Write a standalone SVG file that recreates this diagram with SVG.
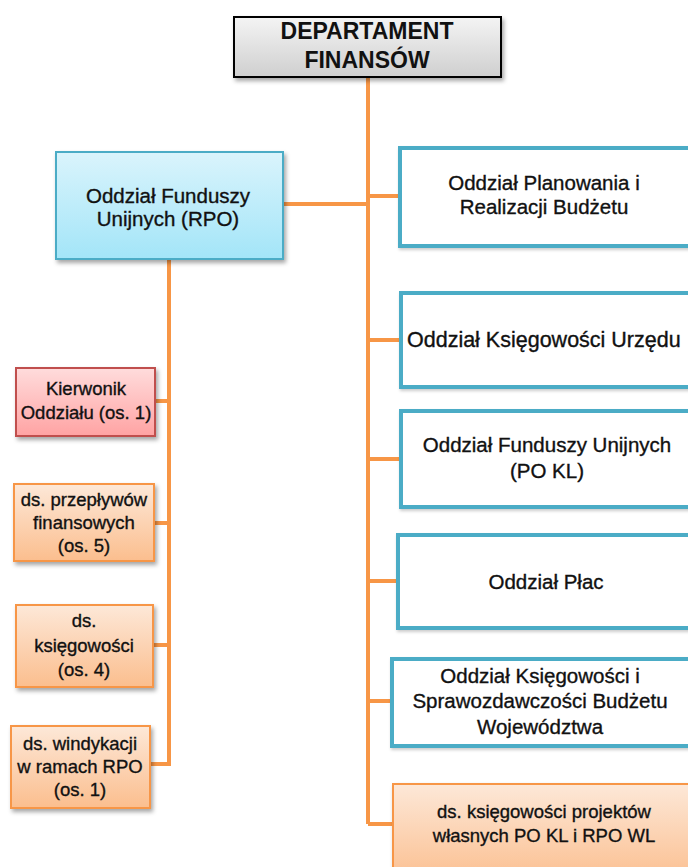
<svg xmlns="http://www.w3.org/2000/svg" width="688" height="867" viewBox="0 0 688 867">
<defs>
<linearGradient id="gGrey" x1="0" y1="0" x2="0" y2="1"><stop offset="0" stop-color="#F4F4F4"/><stop offset="1" stop-color="#CFCFCF"/></linearGradient>
<linearGradient id="gBlue" x1="0" y1="0" x2="0" y2="1"><stop offset="0" stop-color="#DAF4FC"/><stop offset="1" stop-color="#A3E5F8"/></linearGradient>
<linearGradient id="gPink" x1="0" y1="0" x2="0" y2="1"><stop offset="0" stop-color="#FFDCDC"/><stop offset="1" stop-color="#FFA3A3"/></linearGradient>
<linearGradient id="gOrange" x1="0" y1="0" x2="0" y2="1"><stop offset="0" stop-color="#FDE8D8"/><stop offset="1" stop-color="#FBBE8E"/></linearGradient>
<filter id="sh" x="-10%" y="-10%" width="130%" height="130%"><feDropShadow dx="2" dy="3" stdDeviation="2" flood-color="#000" flood-opacity="0.35"/></filter>
<filter id="sh2" x="-10%" y="-10%" width="130%" height="130%"><feDropShadow dx="1" dy="2" stdDeviation="1.5" flood-color="#000" flood-opacity="0.2"/></filter>
</defs>
<style>
.t{font-family:"Liberation Sans",Arial,sans-serif;fill:#111;stroke:#111;stroke-width:0.35;text-anchor:middle}
.big{font-size:20.5px}
.sm{font-size:18.5px}
.hd{font-size:23px;font-weight:bold;stroke-width:0}
.conn{stroke:#F79646;stroke-width:4;fill:none}
.rb{fill:#fff;stroke:#4BACC6;stroke-width:4}
</style>
<g id="connectors">
<line class="conn" x1="368" y1="77" x2="368" y2="824"/>
<line class="conn" x1="283" y1="204" x2="368" y2="204"/>
<line class="conn" x1="368" y1="196" x2="400" y2="196"/>
<line class="conn" x1="368" y1="340" x2="400" y2="340"/>
<line class="conn" x1="368" y1="459" x2="400" y2="459"/>
<line class="conn" x1="368" y1="581" x2="398" y2="581"/>
<line class="conn" x1="368" y1="701" x2="392" y2="701"/>
<line class="conn" x1="368" y1="824" x2="392" y2="824"/>
<line class="conn" x1="169" y1="259" x2="169" y2="766"/>
<line class="conn" x1="155" y1="401" x2="169" y2="401"/>
<line class="conn" x1="154" y1="523" x2="169" y2="523"/>
<line class="conn" x1="153" y1="645" x2="169" y2="645"/>
<line class="conn" x1="150" y1="764" x2="169" y2="764"/>
</g>
<g id="dept">
<rect x="234" y="17" width="267" height="60" fill="url(#gGrey)" stroke="#000" stroke-width="2" filter="url(#sh)"/>
<text class="t hd" x="367" y="39">DEPARTAMENT</text>
<text class="t hd" x="367" y="68">FINANSÓW</text>
</g>
<g id="rpo">
<rect x="56" y="152" width="227" height="107" fill="url(#gBlue)" stroke="#4BACC6" stroke-width="2" filter="url(#sh)"/>
<text class="t big" x="168" y="203">Oddział Funduszy</text>
<text class="t big" x="168" y="226">Unijnych (RPO)</text>
</g>
<g id="planowania">
<rect x="400" y="148" width="300" height="98" class="rb" filter="url(#sh2)"/>
<text class="t big" x="544" y="190">Oddział Planowania i</text>
<text class="t big" x="544" y="214">Realizacji Budżetu</text>
</g>
<g id="urzedu">
<rect x="401" y="293" width="300" height="94" class="rb" filter="url(#sh2)"/>
<text class="t big" x="407" y="347" style="text-anchor:start;font-size:21.5px">Oddział Księgowości Urzędu</text>
</g>
<g id="fundusze-pokl">
<rect x="401" y="411" width="300" height="96" class="rb" filter="url(#sh2)"/>
<text class="t big" x="547" y="452">Oddział Funduszy Unijnych</text>
<text class="t big" x="547" y="478">(PO KL)</text>
</g>
<g id="plac">
<rect x="398" y="535" width="300" height="93" class="rb" filter="url(#sh2)"/>
<text class="t big" x="546" y="589">Oddział Płac</text>
</g>
<g id="sprawozdawczosci">
<rect x="392" y="659" width="300" height="87" class="rb" filter="url(#sh2)"/>
<text class="t big" x="540" y="683">Oddział Księgowości i</text>
<text class="t big" x="540" y="708">Sprawozdawczości Budżetu</text>
<text class="t big" x="540" y="734">Województwa</text>
</g>
<g id="projekty">
<rect x="393" y="784" width="310" height="100" fill="url(#gOrange)" stroke="#F79646" stroke-width="2" filter="url(#sh)"/>
<text class="t sm" x="544" y="818">ds. księgowości projektów</text>
<text class="t sm" x="544" y="842">własnych PO KL i RPO WL</text>
</g>
<g id="kierownik">
<rect x="16" y="368" width="139" height="68" fill="url(#gPink)" stroke="#C0504D" stroke-width="2" filter="url(#sh)"/>
<text class="t sm" x="86" y="395">Kierwonik</text>
<text class="t sm" x="86" y="419">Oddziału (os. 1)</text>
</g>
<g id="przeplywow">
<rect x="14" y="484" width="140" height="77" fill="url(#gOrange)" stroke="#F79646" stroke-width="2" filter="url(#sh)"/>
<text class="t sm" x="84" y="506">ds. przepływów</text>
<text class="t sm" x="84" y="529">finansowych</text>
<text class="t sm" x="84" y="552">(os. 5)</text>
</g>
<g id="ksiegowosci">
<rect x="16" y="605" width="137" height="82" fill="url(#gOrange)" stroke="#F79646" stroke-width="2" filter="url(#sh)"/>
<text class="t sm" x="84" y="627">ds.</text>
<text class="t sm" x="84" y="652">księgowości</text>
<text class="t sm" x="84" y="676">(os. 4)</text>
</g>
<g id="windykacji">
<rect x="11" y="726" width="139" height="82" fill="url(#gOrange)" stroke="#F79646" stroke-width="2" filter="url(#sh)"/>
<text class="t sm" x="80" y="750">ds. windykacji</text>
<text class="t sm" x="80" y="773">w ramach RPO</text>
<text class="t sm" x="80" y="796">(os. 1)</text>
</g>
</svg>
